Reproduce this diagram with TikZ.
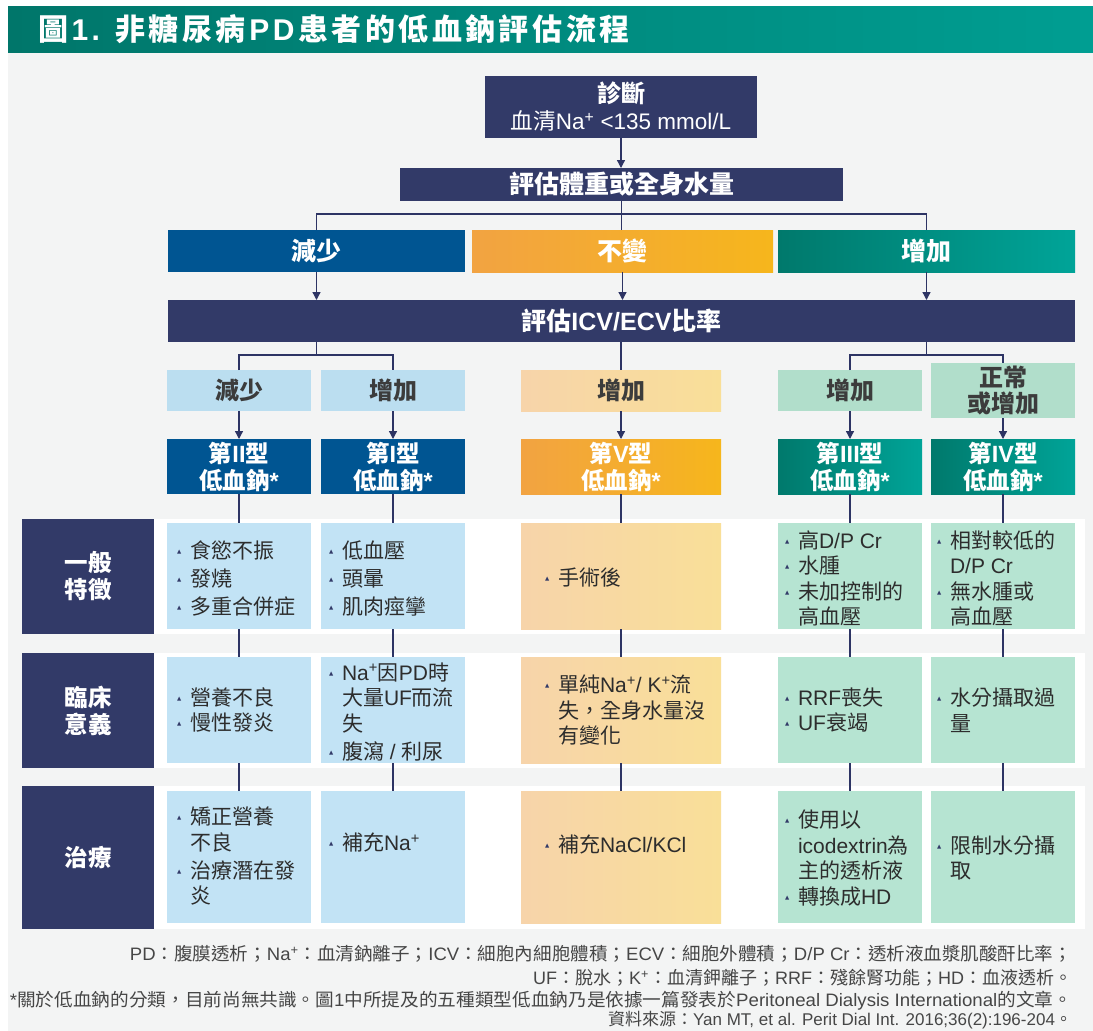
\documentclass[tikz,border=0pt]{standalone}
\usepackage{fontspec}
\usepackage{graphicx}
\setmainfont{Liberation Sans}
\newfontfamily\cjkfont{Noto Sans CJK TC}
\newfontfamily\symfont{DejaVu Sans}
\usetikzlibrary{arrows.meta}

% automatic switch to the CJK font for CJK characters
\XeTeXinterchartokenstate=1
\newXeTeXintercharclass\CJKcls
\newcount\cjkcc
\cjkcc="3000
\loop\XeTeXcharclass\cjkcc=\CJKcls\relax\ifnum\cjkcc<"303F \advance\cjkcc by 1 \repeat
\cjkcc="4E00
\loop\XeTeXcharclass\cjkcc=\CJKcls\relax\ifnum\cjkcc<"9FFF \advance\cjkcc by 1 \repeat
\cjkcc="FF00
\loop\XeTeXcharclass\cjkcc=\CJKcls\relax\ifnum\cjkcc<"FFEF \advance\cjkcc by 1 \repeat
\XeTeXinterchartoks 0 \CJKcls = {\cjkfont}
\XeTeXinterchartoks 4095 \CJKcls = {\cjkfont}
\XeTeXinterchartoks \CJKcls 0 = {\rmfamily}
\XeTeXinterchartoks \CJKcls 4095 = {\rmfamily}

\definecolor{navy}{RGB}{50,58,104}
\definecolor{linec}{RGB}{45,52,100}
\definecolor{dblue}{RGB}{0,85,146}
\definecolor{lblab}{RGB}{187,222,240}
\definecolor{lbcell}{RGB}{194,227,245}
\definecolor{orL}{RGB}{242,163,66}
\definecolor{orR}{RGB}{246,182,28}
\definecolor{lorL}{RGB}{247,212,170}
\definecolor{lorR}{RGB}{249,223,152}
\definecolor{teL}{RGB}{0,121,108}
\definecolor{teR}{RGB}{0,164,152}
\definecolor{lglab}{RGB}{177,222,203}
\definecolor{lgcell}{RGB}{182,228,210}
\definecolor{txt}{RGB}{45,45,45}
\definecolor{labtxt}{RGB}{60,60,60}
\definecolor{bgc}{RGB}{243,244,244}
\definecolor{foot}{RGB}{70,70,70}
\definecolor{tiL}{RGB}{0,118,106}
\definecolor{tiR}{RGB}{0,158,146}

\newcommand\bul{\makebox[13pt][l]{\raisebox{5pt}{\symfont\fontsize{5.5}{5.5}\selectfont\color{navy}▲}}}
\newcommand\ind{\hspace*{13pt}}
\def\spc#1{\ifx#1\relax\else#1\hspace{3.5pt}\expandafter\spc\fi}

\tikzset{
  every node/.style={inner sep=0pt, outer sep=0pt},
  sz/.style 2 args={minimum width=#1, minimum height=#2},
  ln/.style={draw=linec, line width=1.3pt},
  arr/.style={ln, -{Triangle[length=8pt,width=8pt]}},
  navybox/.style={fill=navy, text=white},
  whitebold/.style={text=white, font=\bfseries\fontsize{25}{30}\selectfont},
  lab/.style={text=labtxt, font=\bfseries\fontsize{24}{26}\selectfont},
  typebox/.style={text=white, align=center, font=\bfseries\fontsize{23.5}{27}\selectfont, sz={#1}{55}},
  header/.style={fill=navy, text=white, align=center, font=\bfseries\fontsize{23.5}{27}\selectfont},
  ctext/.style={anchor=west, align=left, text=txt, font=\fontsize{21}{25.5}\selectfont},
  ftext/.style={anchor=east, text=foot, font=\fontsize{18}{20}\selectfont}
}

\begin{document}
\begin{tikzpicture}[x=1pt,y=-1pt]
\useasboundingbox (0,0) rectangle (1093,1031);
\fill[bgc] (8,52) rectangle (1093,1031);

% title
\node[sz={1085}{46}, left color=tiL, right color=tiR] (titlebar) at (550.5,29) {};
\node[anchor=west, text=white, font=\bfseries\fontsize{30}{32}\selectfont] (title) at (38,29) {\spc 圖1.\ 非糖尿病PD患者的低血鈉評估流程\relax};

% top flow
\node[navybox, sz={272}{62}, align=center, font=\fontsize{22.5}{27}\selectfont] (diag) at (621,107) {{\bfseries\fontsize{24}{27}\selectfont 診斷}\\血清Na\textsuperscript{+} <135 mmol/L};
\node[navybox, whitebold, sz={443}{33}] (evalw) at (621.5,184.5) {評估體重或全身水量};
\node[fill=dblue, whitebold, sz={297}{42}] (dec) at (316.5,251) {減少};
\node[left color=orL, right color=orR, whitebold, sz={301}{42}] (same) at (622.5,251) {不變};
\node[left color=teL, right color=teR, whitebold, sz={297}{42}] (inc) at (926.5,251) {增加};
\node[navybox, whitebold, sz={907}{42}] (icv) at (621.5,321) {評估ICV/ECV比率};

% second level labels
\node[lab, fill=lblab, sz={144}{41}] (L1) at (239,390.5) {減少};
\node[lab, fill=lblab, sz={144}{41}] (L2) at (393,390.5) {增加};
\node[lab, left color=lorL, right color=lorR, sz={200}{41}] (L3) at (621,390.5) {增加};
\node[lab, fill=lglab, sz={144}{41}] (L4) at (850,390.5) {增加};
\node[lab, fill=lglab, sz={144}{55}, align=center] (L5) at (1003,390.5) {正常\\或增加};

% type boxes
\node[typebox=144, fill=dblue] (T1) at (239,466.5) {第II型\\低血鈉*};
\node[typebox=144, fill=dblue] (T2) at (393,466.5) {第I型\\低血鈉*};
\node[typebox=200, left color=orL, right color=orR] (T3) at (621,466.5) {第V型\\低血鈉*};
\node[typebox=144, left color=teL, right color=teR] (T4) at (850,466.5) {第III型\\低血鈉*};
\node[typebox=144, left color=teL, right color=teR] (T5) at (1003,466.5) {第IV型\\低血鈉*};

% row bands and headers
\node[fill=white, sz={1063}{115}] (band1) at (553.5,576.5) {};
\node[fill=white, sz={1063}{115}] (band2) at (553.5,710.5) {};
\node[fill=white, sz={1063}{143}] (band3) at (553.5,857.5) {};
\node[header, sz={132}{115}] (h1) at (88,576.5) {一般\\特徵};
\node[header, sz={132}{115}] (h2) at (88,710.5) {臨床\\意義};
\node[header, sz={132}{143}] (h3) at (88,857.5) {治療};

% cells
\foreach \r/\yc/\hh in {1/576/106, 2/710/106, 3/857/132}{
  \node[fill=lbcell, sz={144}{\hh}] (c\r a) at (239,\yc) {};
  \node[fill=lbcell, sz={144}{\hh}] (c\r b) at (393,\yc) {};
  \node[left color=lorL, right color=lorR, sz={200}{\hh}] (c\r c) at (621,\yc) {};
  \node[fill=lgcell, sz={144}{\hh}] (c\r d) at (850,\yc) {};
  \node[fill=lgcell, sz={144}{\hh}] (c\r e) at (1003,\yc) {};
}

% cell texts
\node[ctext] (t1a) at (177,579) {\bul 食慾不振\\[2.5pt]\bul 發燒\\[2.5pt]\bul 多重合併症};
\node[ctext] (t1b) at (329,579) {\bul 低血壓\\[2.5pt]\bul 頭暈\\[2.5pt]\bul 肌肉痙攣};
\node[ctext] (t1c) at (545,578) {\bul 手術後};
\node[ctext] (t1d) at (785,578.5) {\bul 高D/P Cr\\\bul 水腫\\\bul 未加控制的\\\ind 高血壓};
\node[ctext] (t1e) at (937,578.5) {\bul 相對較低的\\\ind D/P Cr\\\bul 無水腫或\\\ind 高血壓};

\node[ctext] (t2a) at (177,710) {\bul 營養不良\\\bul 慢性發炎};
\node[ctext] (t2b) at (329,712) {\bul Na\textsuperscript{+}因PD時\\\ind 大量UF而流\\\ind 失\\[2.5pt]\bul 腹瀉 / 利尿};
\node[ctext] (t2c) at (545,710.5) {\bul 單純Na\textsuperscript{+}/ K\textsuperscript{+}流\\\ind 失，全身水量沒\\\ind 有變化};
\node[ctext] (t2d) at (785,710) {\bul RRF喪失\\\bul UF衰竭};
\node[ctext] (t2e) at (937,710) {\bul 水分攝取過\\\ind 量};

\node[ctext] (t3a) at (177,856) {\bul 矯正營養\\\ind 不良\\[2.5pt]\bul 治療潛在發\\\ind 炎};
\node[ctext] (t3b) at (329,843) {\bul 補充Na\textsuperscript{+}};
\node[ctext] (t3c) at (545,845) {\bul 補充NaCl/KCl};
\node[ctext] (t3d) at (785,858) {\bul 使用以\\\ind icodextrin為\\\ind 主的透析液\\\bul 轉換成HD};
\node[ctext] (t3e) at (937,858) {\bul 限制水分攝\\\ind 取};

% connectors: top
\draw[arr] (diag.south) -- (diag.south |- evalw.north);
\draw[ln] (evalw.south) -- (evalw.south |- same.north);
\draw[ln] (dec.north) |- (evalw.south |- 0,214) coordinate (j0) -| (inc.north);
\draw[arr] (dec.south) -- (dec.south |- icv.north);
\draw[arr] (same.south) -- (same.south |- icv.north);
\draw[arr] (inc.south) -- (inc.south |- icv.north);

% connectors: second level
\draw[ln] (icv.south -| dec.south) -- ++(0,13) coordinate (j1);
\draw[ln] (L1.north) |- (j1) -| (L2.north);
\draw[ln] (icv.south -| L3.north) -- (L3.north);
\draw[ln] (icv.south -| inc.south) -- ++(0,13) coordinate (j2);
\draw[ln] (L4.north) |- (j2) -| (L5.north);

\foreach \k/\c in {1/a,2/b,3/c,4/d,5/e}{
  \draw[arr] (L\k.south) -- (T\k.north);
  \draw[ln] (T\k.south) -- (c1\c.north);
  \draw[ln] (c1\c.south) -- (c2\c.north);
  \draw[ln] (c2\c.south) -- (c3\c.north);
}

% footnotes
\node[ftext] (f1) at (1072,954) {\resizebox{942pt}{\height}{PD：腹膜透析；Na\textsuperscript{+}：血清鈉離子；ICV：細胞內細胞體積；ECV：細胞外體積；D/P Cr：透析液血漿肌酸酐比率；}};
\node[ftext] (f2) at (1072,978) {UF：脫水；K\textsuperscript{+}：血清鉀離子；RRF：殘餘腎功能；HD：血液透析。};
\node[ftext] (f3) at (1072,1001) {\resizebox{1062pt}{\height}{*關於低血鈉的分類，目前尚無共識。圖1中所提及的五種類型低血鈉乃是依據一篇發表於Peritoneal Dialysis International的文章。}};
\node[ftext, font=\fontsize{17}{19}\selectfont] (f4) at (1072,1020.5) {資料來源：Yan MT, et al. Perit Dial Int. 2016;36(2):196-204。};
\end{tikzpicture}
\end{document}
